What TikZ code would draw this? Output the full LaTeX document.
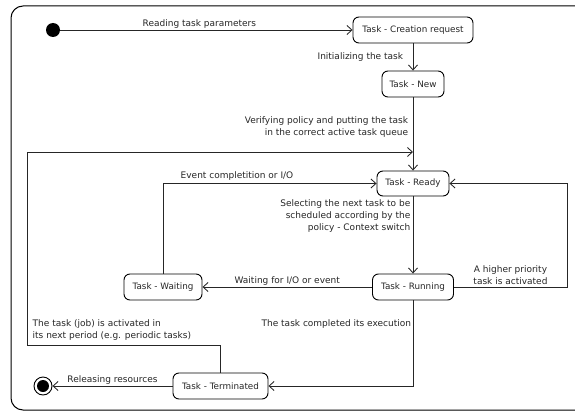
\documentclass[tikz,border=0pt]{standalone}
\usepackage{fontspec}
\setmainfont{DejaVu Sans}
\usetikzlibrary{arrows.meta}
\begin{document}
\begin{tikzpicture}[x=1pt,y=-1pt,
  font=\fontsize{9}{12}\selectfont,
  state/.style={draw, line width=0.9pt, rounded corners=6pt, minimum height=26pt,
    inner sep=0pt, text=black!85, font=\fontsize{8.8}{12}\selectfont},
  trans/.style={draw=black!85, line width=0.85pt, -{Straight Barb[length=5pt,width=9pt,line width=0.85pt]}},
  lbl/.style={text=black!85, inner sep=1.5pt},
  startdot/.style={circle, fill=black, minimum size=14pt, inner sep=0pt},
  enddot/.style={circle, draw, line width=0.9pt, minimum size=18pt, inner sep=0pt,
    path picture={\fill (path picture bounding box.center) circle (6pt);}}]
\useasboundingbox (0,0) rectangle (575,412);

% outer frame of the state machine
\begin{scope}
  \clip (0,0) rectangle (575,412);
  \draw[line width=1pt, rounded corners=12pt] (11,6) rectangle (595,410);
\end{scope}

% states
\node[startdot] (init) at (53,30) {};
\node[state, minimum width=120pt] (creation) at (413,30) {Task - Creation request};
\node[state, minimum width=62pt] (new) at (413,84) {Task - New};
\node[state, minimum width=72pt, minimum height=25pt] (ready) at (413,183.5) {Task - Ready};
\node[state, minimum width=81pt] (running) at (413,287) {Task - Running};
\node[state, minimum width=78pt] (waiting) at (163,287) {Task - Waiting};
\node[state, minimum width=95pt] (terminated) at (220.5,386) {Task - Terminated};
\node[enddot] (final) at (43,386) {};
\coordinate (merge) at (413,152);

% transitions
\draw[trans] (init) -- node[lbl, above, xshift=-7pt] {Reading task parameters} (creation);
\draw[trans] (creation) -- node[lbl, left, xshift=-8pt] {Initializing the task} (new);
\draw[trans] (new) -- node[lbl, pos=0.4, left, xshift=-3pt, align=right]
  {Verifying policy and putting the task\\in the correct active task queue} (ready);
\draw[trans] (terminated.north) -- ++(0,-27) -| (27,152) -- (merge);
\node[lbl, anchor=west, align=left] (periodic) at (31,330)
  {The task (job) is activated in\\its next period (e.g. periodic tasks)};
\draw[trans] (waiting.north) |- (ready.west);
\node[lbl, anchor=west] (eventdone) at (179,176) {Event completition or I/O};
\draw[trans] (ready) -- (running);
\node[lbl, anchor=north east, align=right] (selecting) at ([xshift=-1pt,yshift=-2pt]ready.south)
  {Selecting the next task to be\\scheduled according by the\\policy - Context switch};
\draw[trans] (running.east) -- node[lbl, above, align=center]
  {A higher priority\\task is activated} (567,287) |- (ready.east);
\draw[trans] (running) -- node[lbl, above] {Waiting for I/O or event} (waiting);
\draw[trans] (running.south) |- node[lbl, pos=0.14, left] {The task completed its execution} (terminated.east);
\draw[trans] (terminated) -- node[lbl, above] {Releasing resources} (final);
\end{tikzpicture}
\end{document}
